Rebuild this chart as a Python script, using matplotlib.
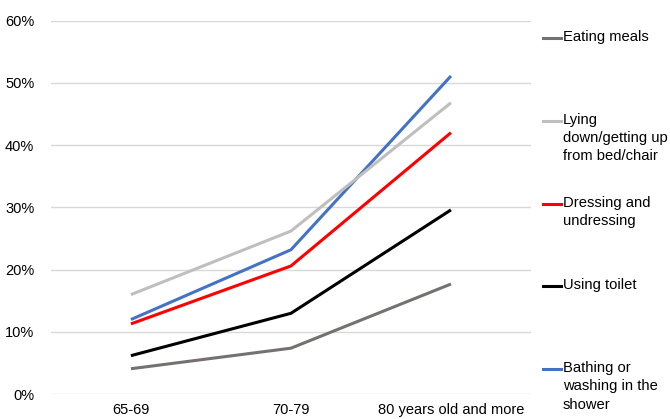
import matplotlib.pyplot as plt
from matplotlib.lines import Line2D
from matplotlib.ticker import PercentFormatter

plt.rcParams['font.family'] = ['Liberation Sans', 'DejaVu Sans']

age_groups = ['65-69', '70-79', '80 years old and more']

eating = [4.1, 7.4, 17.7]
lying = [16.0, 26.2, 46.8]
dressing = [11.3, 20.6, 42.0]
toilet = [6.2, 13.0, 29.6]
bathing = [12.0, 23.2, 51.1]

series = [
    ('Eating meals', eating, '#767171'),
    ('Lying\ndown/getting up\nfrom bed/chair', lying, '#BFBFBF'),
    ('Dressing and\nundressing', dressing, '#FF0000'),
    ('Using toilet', toilet, '#000000'),
    ('Bathing or\nwashing in the\nshower', bathing, '#4472C4'),
]

fig = plt.figure(figsize=(6.7, 4.19), dpi=100)
ax = fig.add_axes([0.076, 0.059, 0.7165, 0.892])

x = range(len(age_groups))
# draw in reverse so the first series sits on top like in the original workbook
for name, vals, color in reversed(series):
    ax.plot(x, vals, color=color, linewidth=2.2, solid_capstyle='butt', zorder=3)

ax.set_xlim(-0.5, len(age_groups) - 0.5)
ax.set_ylim(0, 60)
ax.set_yticks(range(0, 61, 10))
ax.yaxis.set_major_formatter(PercentFormatter(decimals=0))
ax.set_xticks(list(x))
ax.set_xticklabels(age_groups)
ax.tick_params(axis='both', length=0, labelsize=10.5, colors='#000000')
ax.tick_params(axis='y', pad=12)
ax.tick_params(axis='x', pad=6)

ax.grid(axis='y', color='#D9D9D9', linewidth=1)
ax.set_axisbelow(True)
for spine in ax.spines.values():
    spine.set_visible(False)

# legend on the right, handles aligned with the first text line
y0 = 1 - 38 / 419
step = 82.8 / 419
for i, (name, vals, color) in enumerate(series):
    yy = y0 - i * step
    fig.add_artist(Line2D([543 / 670, 561 / 670], [yy, yy], color=color,
                          linewidth=2.2, transform=fig.transFigure))
    fig.text(563 / 670, yy + 8 / 419, name, fontsize=10.6, va='top', ha='left',
             linespacing=1.38)

plt.savefig('out.png', dpi=100)
plt.close()
